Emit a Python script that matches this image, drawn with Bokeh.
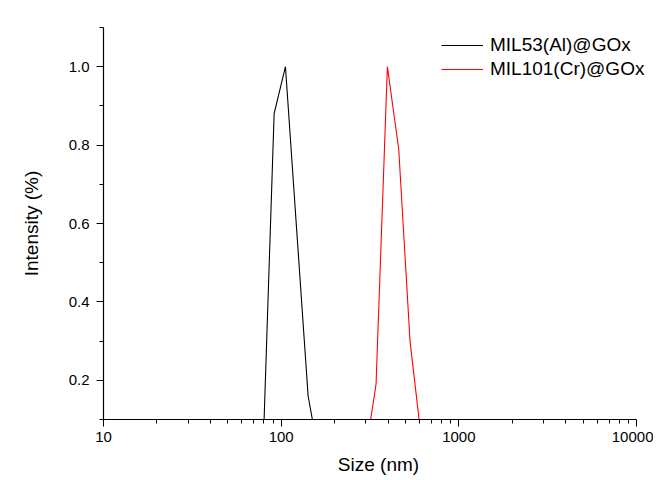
from bokeh.plotting import figure
from bokeh.models import Range1d, FixedTicker, NumeralTickFormatter, Legend, LegendItem
from bokeh.embed import file_html
from bokeh.resources import INLINE

# DLS size bins (nm) and normalised intensities
size_mil53 = [68.06, 78.82, 91.28, 105.7, 122.4, 141.8, 164.2, 190.1]
int_mil53 = [0.0, 0.0, 0.88, 1.0, 0.58, 0.16, 0.0, 0.0]

size_mil101 = [255.0, 295.3, 342.0, 396.1, 458.7, 531.2, 615.1, 712.4]
int_mil101 = [0.0, 0.0, 0.19, 1.0, 0.79, 0.30, 0.05, 0.0]

names = ["MIL53(Al)@GOx", "MIL101(Cr)@GOx"]
colors = ["#000000", "#ff0000"]

x_major = [10, 100, 1000, 10000]
x_minor = [m * d for d in (10, 100, 1000) for m in range(2, 10)]
y_major = [0.2, 0.4, 0.6, 0.8, 1.0]
y_minor = [0.1, 0.3, 0.5, 0.7, 0.9, 1.1]

FONT = "Liberation Sans"

# frame extended a little past 10000 so the legend (which overhangs the axis end) is not clipped;
# the axis itself is bounded to 10..10000
p = figure(frame_width=550, frame_height=392, x_axis_type="log",
           x_range=Range1d(10, 12460), y_range=Range1d(0.1, 1.1),
           output_backend="svg", toolbar_location=None,
           min_border_left=103, min_border_right=0, min_border_top=27, min_border_bottom=54)
p.outline_line_color = None
p.xgrid.visible = False
p.ygrid.visible = False
p.background_fill_color = "white"
p.border_fill_color = "white"

r1 = p.line(size_mil53, int_mil53, line_color=colors[0], line_width=1.1)
r2 = p.line(size_mil101, int_mil101, line_color=colors[1], line_width=1.1)

xa = p.xaxis[0]
xa.ticker = FixedTicker(ticks=x_major, minor_ticks=x_minor)
xa.formatter = NumeralTickFormatter(format="0")
xa.axis_label = "Size (nm)"
xa.bounds = (10, 10000)
ya = p.yaxis[0]
ya.ticker = FixedTicker(ticks=y_major, minor_ticks=y_minor)
ya.formatter = NumeralTickFormatter(format="0.0")
ya.axis_label = "Intensity (%)"

for ax in (xa, ya):
    ax.axis_line_color = "black"
    ax.axis_line_width = 1.2
    ax.major_tick_line_color = "black"
    ax.minor_tick_line_color = "black"
    ax.major_tick_out = 7
    ax.major_tick_in = 0
    ax.minor_tick_out = 4
    ax.minor_tick_in = 0
    ax.major_label_text_font = FONT
    ax.major_label_text_font_size = "15px"
    ax.major_label_text_color = "black"
    ax.axis_label_text_font = FONT
    ax.axis_label_text_font_size = "19px"
    ax.axis_label_text_font_style = "normal"
    ax.axis_label_text_color = "black"
xa.major_label_standoff = 5
xa.axis_label_standoff = 9
ya.major_label_standoff = 7
ya.axis_label_standoff = 24

legend = Legend(items=[LegendItem(label=names[0], renderers=[r1]),
                       LegendItem(label=names[1], renderers=[r2])],
                location=(338, 338))
legend.background_fill_alpha = 0
legend.border_line_color = None
legend.padding = 0
legend.margin = 0
legend.spacing = 0
legend.glyph_width = 42
legend.glyph_height = 24
legend.label_height = 24
legend.label_standoff = 7
legend.label_text_font = FONT
legend.label_text_font_size = "19px"
legend.label_text_color = "black"
p.add_layout(legend, "center")

open("out.html", "w").write(file_html(p, INLINE))
